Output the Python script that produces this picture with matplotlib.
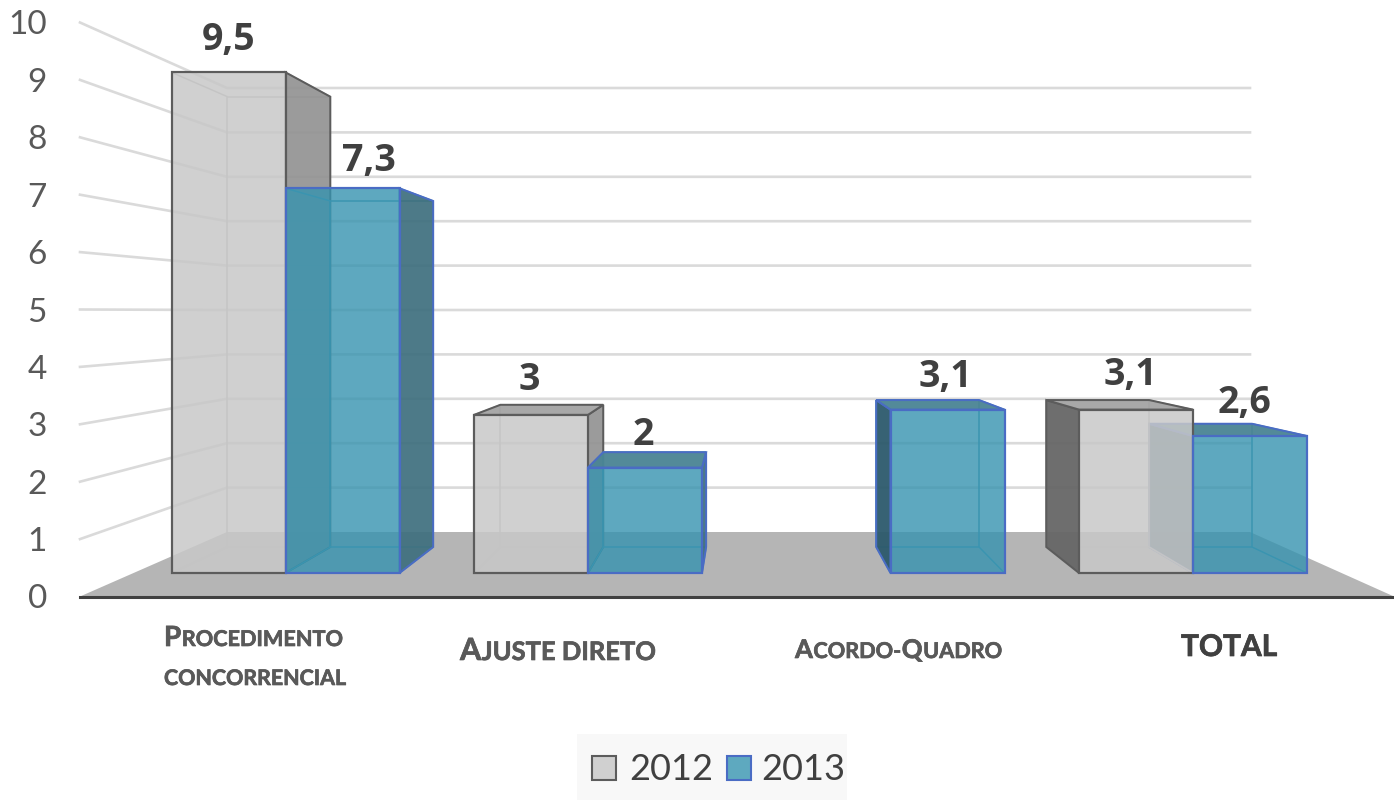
from matplotlib import pyplot as plt
from matplotlib import patheffects
from matplotlib.colors import to_rgba
from matplotlib.patches import Polygon, Rectangle

plt.rcParams['font.family'] = ['Lato', 'DejaVu Sans']

categories = ['Procedimento concorrencial', 'Ajuste direto', 'Acordo-Quadro', 'TOTAL']
values_2012 = [9.5, 3, 0, 3.1]
values_2013 = [7.3, 2, 3.1, 2.6]
labels_2012 = ['9,5', '3', '', '3,1']
labels_2013 = ['7,3', '2', '3,1', '2,6']
y_ticks = [0, 1, 2, 3, 4, 5, 6, 7, 8, 9, 10]

# the picture is a fake 3D chart, so everything goes through this projection
FRONT_BASE, FRONT_SCALE = 573, 52.7
BACK_BASE, BACK_SCALE = 547, 47.4
WALL_LEFT, WALL_BACK = 80, 227
WALL_RIGHT = 1250
FLOOR_RIGHT = 1394
GROUP_START, GROUP_STEP, BAR_W = 285.5, 302.5, 114

z_counter = [10]


def next_z():
    z_counter[0] += 1
    return z_counter[0]


def pt(x, v, back=False):
    if back:
        return (0.9023 * x + 72.7, BACK_BASE - BACK_SCALE * v)
    return (x, FRONT_BASE - FRONT_SCALE * v)


def wall_y(v):
    return 596.5 - 57.4 * v


def back_y(v):
    return 532 - 44.4 * v


def fill(ax, pts, color, alpha, edge, lw=2.0):
    ax.add_patch(Polygon(pts, closed=True, facecolor=to_rgba(color, alpha),
                         edgecolor='none', zorder=next_z()))
    ax.add_patch(Polygon(pts, closed=True, fill=False, edgecolor=edge,
                         linewidth=lw * 0.72, joinstyle='miter', zorder=next_z()))


def line(ax, a, b, color, lw=1.5):
    ax.plot([a[0], b[0]], [a[1], b[1]], color=color, lw=lw * 0.72, zorder=next_z(),
            solid_capstyle='butt')


def draw_shell(ax, x0, x1, v, st):
    # hidden edges first, then the faces that can really be seen
    line(ax, pt(x0, 0, True), pt(x1, 0, True), st['hidden'])
    line(ax, pt(x0, 0, True), pt(x0, v, True), st['hidden'])
    line(ax, pt(x1, 0, True), pt(x1, v, True), st['hidden'])
    line(ax, pt(x0, v, True), pt(x1, v, True), st['hidden'])
    line(ax, pt(x0, 0), pt(x0, 0, True), st['hidden'])
    line(ax, pt(x1, 0), pt(x1, 0, True), st['hidden'])
    line(ax, pt(x0, v), pt(x0, v, True), st['hidden'])
    line(ax, pt(x1, v), pt(x1, v, True), st['hidden'])

    if pt(x0, 0, True)[0] < x0:
        fill(ax, [pt(x0, 0), pt(x0, v), pt(x0, v, True), pt(x0, 0, True)],
             st['left'], 0.95, st['edge'])
    if pt(x1, 0, True)[0] > x1:
        fill(ax, [pt(x1, 0), pt(x1, v), pt(x1, v, True), pt(x1, 0, True)],
             st['right'], 0.92, st['edge'])
    if pt(x0, v, True)[1] < pt(x0, v)[1]:
        fill(ax, [pt(x0, v), pt(x1, v), pt(x1, v, True), pt(x0, v, True)],
             st['top'], 0.95, st['edge'])


def draw_front(ax, x0, x1, v, st):
    fill(ax, [pt(x0, 0), pt(x1, 0), pt(x1, v), pt(x0, v)],
         st['front'], st['alpha'], st['edge'], 2.2)


def small_caps(ax, fig, x, y, runs, color):
    # runs are (text, size) pieces set one after the other on the same baseline
    rend = fig.canvas.get_renderer()
    for s, size in runs:
        t = ax.text(x, y, s, fontsize=size, fontweight='bold', color=color,
                    ha='left', va='baseline', zorder=200,
                    path_effects=[patheffects.withStroke(linewidth=0.5, foreground=color)])
        bb = t.get_window_extent(rend)
        x += bb.width + 0.5


style_2012 = dict(front='#c8c8c8', alpha=0.85, left='#666666', right='#939393', top='#a3a3a3',
                  edge='#5c5c5c', hidden='#b2b2b2')
style_2013 = dict(front='#3693af', alpha=0.8, left='#2c5a6c', right='#3e6f7e', top='#4a8494',
                  edge='#4a6cc4', hidden='#4a9ab5')

fig = plt.figure(figsize=(13.94, 8.01), dpi=100)
ax = fig.add_axes([0, 0, 1, 1])
ax.set_xlim(0, 1394)
ax.set_ylim(801, 0)
ax.axis('off')

# walls
for v in y_ticks[1:]:
    ax.plot([WALL_LEFT, WALL_BACK, WALL_RIGHT], [wall_y(v), back_y(v), back_y(v)],
            color='#dadada', lw=1.9, zorder=1)

# floor
ax.add_patch(Polygon([(WALL_LEFT, wall_y(0)), (FLOOR_RIGHT, wall_y(0)), (WALL_RIGHT, back_y(0)),
                      (WALL_BACK, back_y(0))], closed=True, facecolor='#b5b5b5',
                     edgecolor='none', zorder=2))
ax.plot([WALL_LEFT, FLOOR_RIGHT], [wall_y(0), wall_y(0)], color='#404040', lw=2.2, zorder=3)

# y tick labels
for v in y_ticks:
    ax.text(47, wall_y(v) + 3, str(v), fontsize=24, color='#595959', ha='right', va='center')

# bars
for i in range(len(categories)):
    c = GROUP_START + GROUP_STEP * i
    a, b = values_2012[i], values_2013[i]
    x_a = c - BAR_W
    x_b = c + BAR_W
    shell_first = pt(c, 0, True)[0] < c
    if shell_first:
        draw_shell(ax, c, x_b, b, style_2013)
    if a > 0:
        draw_shell(ax, x_a, c, a, style_2012)
        draw_front(ax, x_a, c, a, style_2012)
    if not shell_first:
        draw_shell(ax, c, x_b, b, style_2013)
    draw_front(ax, c, x_b, b, style_2013)

# data labels, some were moved by hand in the original
nudge_2012 = [0, -2, 0, -6]
nudge_2013 = [26, -2, -2, -5]
lift_2012 = [32, 35, 0, 35]
lift_2013 = [27, 33, 33, 33]
for i in range(len(categories)):
    c = GROUP_START + GROUP_STEP * i
    if labels_2012[i]:
        x, y = pt(c - BAR_W / 2, values_2012[i])
        ax.text(x + nudge_2012[i], y - lift_2012[i], labels_2012[i], fontsize=27, fontweight='bold',
                family='Open Sans', color='#404040', ha='center', va='center', zorder=300)
    x, y = pt(c + BAR_W / 2, values_2013[i])
    ax.text(x + nudge_2013[i], y - lift_2013[i], labels_2013[i], fontsize=27, fontweight='bold',
            family='Open Sans', color='#404040', ha='center', va='center', zorder=300)

# category labels, small caps by hand
fig.canvas.draw()
small_caps(ax, fig, 164, 646, [('P', 20), ('ROCEDIMENTO', 15.6)], '#595959')
small_caps(ax, fig, 164, 685, [('CONCORRENCIAL', 15.4)], '#595959')
small_caps(ax, fig, 460, 660, [('A', 22), ('JUSTE DIRETO', 18.4)], '#595959')
small_caps(ax, fig, 795, 658, [('A', 18.5), ('CORDO-', 15.6), ('Q', 18.5), ('UADRO', 15.6)], '#595959')
small_caps(ax, fig, 1181, 656, [('TOTAL', 21.5)], '#404040')

# legend
ax.add_patch(Rectangle((577, 734), 270, 66, facecolor='#f8f8f8', edgecolor='none', zorder=400))
ax.add_patch(Rectangle((592, 756), 24, 24, facecolor='#d0d0d0', edgecolor='#5c5c5c', lw=1.5, zorder=401))
ax.add_patch(Rectangle((727, 756), 24, 24, facecolor='#5ea9bf', edgecolor='#4a6cc4', lw=1.5, zorder=401))
ax.text(629, 769, '2012', fontsize=26, color='#404040', ha='left', va='center', zorder=402)
ax.text(761, 769, '2013', fontsize=26, color='#404040', ha='left', va='center', zorder=402)

fig.savefig('out.png', dpi=100)
